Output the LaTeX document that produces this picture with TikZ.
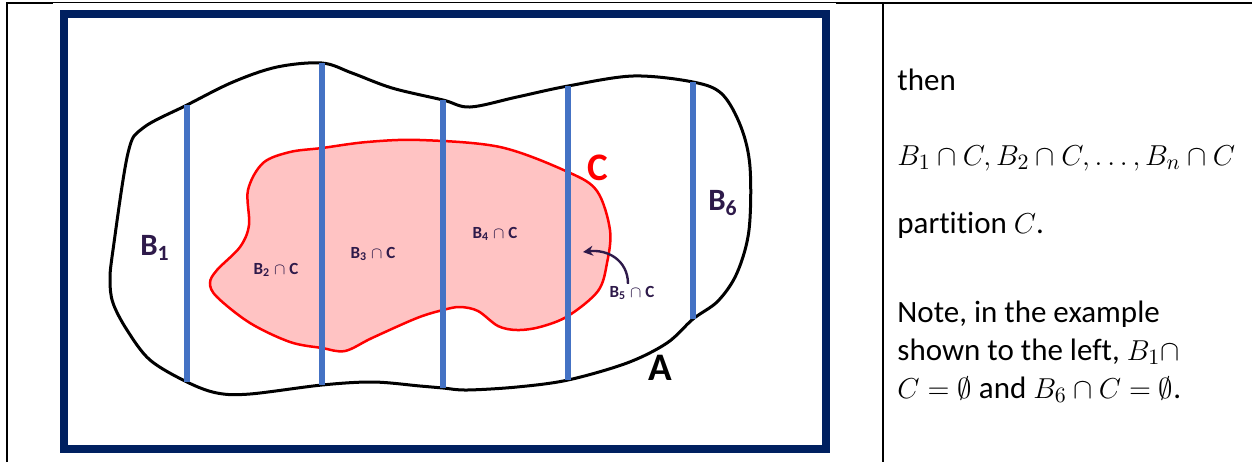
\documentclass[tikz,border=0pt]{standalone}
\usepackage{fontspec}
\setmainfont{Carlito}[Ligatures={NoCommon}]
\usepackage{tikz}
\usepackage{xcolor}
\usetikzlibrary{arrows.meta}
\definecolor{framecolor}{HTML}{002060}
\definecolor{slicecolor}{HTML}{4472C4}
\definecolor{setccolor}{HTML}{FF0000}
\definecolor{setcfill}{HTML}{FFC3C3}
\definecolor{labcolor}{HTML}{2E1A4A}

\begin{document}
\begin{tikzpicture}[
  x=0.5pt, y=-0.5pt,
  tableline/.style={line width=1.3pt, black},
  frameline/.style={draw=framecolor, line width=4pt},
  setA/.style={draw=black, line width=1.5pt, fill=white},
  setC/.style={draw=setccolor, line width=1.25pt, fill=setcfill},
  slice/.style={draw=slicecolor, line width=3pt},
  bigname/.style={font=\fontsize{15.5}{18}\selectfont\bfseries, text=labcolor, inner sep=0pt},
  setname/.style={font=\fontsize{19.5}{22}\selectfont\bfseries, inner sep=0pt},
  piece/.style={font=\fontsize{8.5}{10}\selectfont\bfseries, text=labcolor, inner sep=1pt},
  pointer/.style={draw=labcolor, line width=1.2pt, -{Stealth[length=5pt,width=5pt]}},
  bodytext/.style={font=\fontsize{15.5}{19}\selectfont, anchor=base west, inner sep=0pt},
]
\useasboundingbox (0,0) rectangle (1252,462);

% Table cell borders
\draw[tableline] (7,462) -- (7,3) -- (53,3);
\draw[line width=0.5pt] (53,2.8) -- (836,2.8);
\draw[tableline] (836,3) -- (1252,3);
\draw[tableline] (883,3) -- (883,462);

% Navy frame round the picture
\draw[frameline] (64,14) rectangle (826,449);

% Slice end points on the border of A
\coordinate (t1) at (187,105); \coordinate (b1) at (187,382);
\coordinate (t2) at (322,63);  \coordinate (b2) at (322,385);
\coordinate (t3) at (443,100); \coordinate (b3) at (443,388);
\coordinate (t4) at (568,86);  \coordinate (b4) at (568,380);
\coordinate (t5) at (693,82);  \coordinate (b5) at (693,319);

% Set A
\path[setA] plot[smooth cycle, tension=0.55] coordinates {
  (113,250) (128,153) (143,128) (t1) (233,82) (277,67) (t2) (352,73)
  (392,88) (t3) (470,107) (517,97) (t4) (633,76) (t5) (722,94)
  (741,127) (750,167) (749,230) (737,273) (718,301) (b5) (667,343)
  (627,363) (b4) (517,387) (467,390) (b3) (420,386) (373,382) (b2)
  (250,394) (217,393) (b1) (150,360) (127,330) (113,303) (110,280)};

% Set C
\path[setC] plot[smooth cycle, tension=0.55] coordinates {
  (249,225) (248,190) (263,163) (290,152) (322,148) (367,142) (420,140)
  (500,147) (568,172) (597,191) (610,230) (607,263) (598,291) (568,316)
  (540,327) (517,330) (498,326) (478,311) (460,307) (443,310) (417,318)
  (372,338) (345,351) (322,348) (290,342) (250,323) (217,297) (210,283)
  (217,270) (240,247)};

% Slices B_i
\foreach \i in {1,...,5}
  \draw[slice] (t\i) -- (b\i);

% Labels on the diagram
\node[bigname] (lb1) at (155,248) {B\textsubscript{1}};
\node[bigname] (lb6) at (723,203) {B\textsubscript{6}};
\node[setname, text=setccolor] (lc) at (598,168) {C};
\node[setname, text=black] (la) at (660,368) {A};
\node[piece] (b2c) at (276,270) {B\textsubscript{2} $\cap$ C};
\node[piece] (b3c) at (373,254) {B\textsubscript{3} $\cap$ C};
\node[piece] (b4c) at (495,234) {B\textsubscript{4} $\cap$ C};
\node[piece] (b5c) at (632,293) {B\textsubscript{5} $\cap$ C};
\coordinate (b5tip) at (583,252);
\draw[pointer] ([xshift=-2pt]b5c.north) .. controls +(0,-24) and +(24,-3) .. (b5tip);

% Text in the right cell
\node[bodytext] (then) at (897,90) {then};
\node[bodytext] (seq) at (897,165) {$B_1 \cap C, B_2 \cap C, \dots, B_n \cap C$};
\node[bodytext] (part) at (897,233) {partition $C$.};
\node[bodytext] (note1) at (897,322) {Note, in the example};
\node[bodytext] (note2) at (897,360) {shown to the left, $B_1 \cap$};
\node[bodytext] (note3) at (897,398) {$C = \emptyset$ and $B_6 \cap C = \emptyset$.};

\end{tikzpicture}
\end{document}
